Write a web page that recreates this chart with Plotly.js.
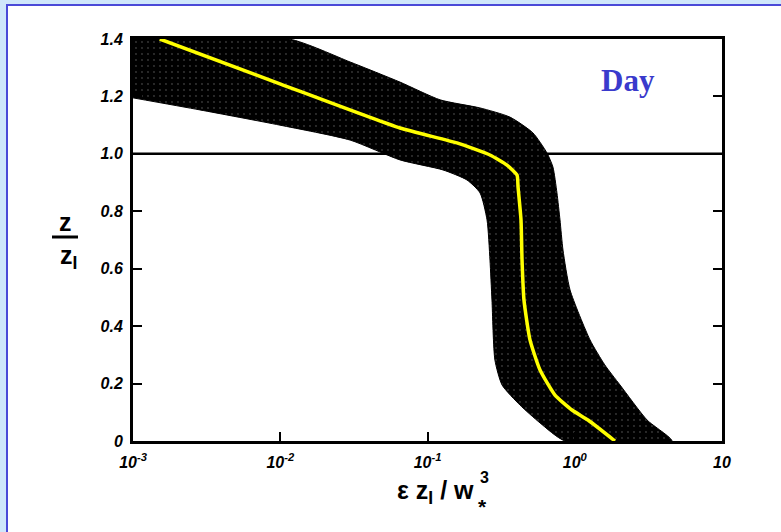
<!DOCTYPE html>
<html>
<head>
<meta charset="utf-8">
<script src="https://cdn.plot.ly/plotly-3.0.1.min.js"></script>
<style>
html,body{margin:0;padding:0;background:#cfe7fb;}
#chart{width:781px;height:532px;}
</style>
</head>
<body>
<div id="chart"></div>
<script>
// Shaded band: upper/right edge and lower/left edge
var bandUpperX = [0.001, 0.0115, 0.0298, 0.065, 0.122, 0.227, 0.363, 0.52, 0.648, 0.711, 0.757, 0.794, 0.832, 0.929, 1.27, 1.60, 2.03, 3.10, 4.57];
var bandUpperY = [1.40, 1.40, 1.32, 1.25, 1.188, 1.16, 1.128, 1.073, 1.003, 0.954, 0.864, 0.77, 0.665, 0.526, 0.352, 0.265, 0.195, 0.073, 0];
var bandLowerX = [0.001, 0.00285, 0.00995, 0.0298, 0.065, 0.1274, 0.1854, 0.2274, 0.2537, 0.2656, 0.274, 0.287, 0.321, 0.425, 0.581, 0.859];
var bandLowerY = [1.195, 1.153, 1.10, 1.048, 0.979, 0.944, 0.909, 0.864, 0.77, 0.63, 0.491, 0.282, 0.195, 0.125, 0.063, 0];
// Yellow fitted curve
var fitX = [0.00152, 0.00995, 0.065, 0.1585, 0.2655, 0.3467, 0.4055, 0.412, 0.4315, 0.4385, 0.452, 0.4966, 0.581, 0.734, 0.957, 1.23, 1.875];
var fitY = [1.40, 1.244, 1.09, 1.038, 0.996, 0.961, 0.926, 0.885, 0.77, 0.63, 0.491, 0.352, 0.247, 0.16, 0.108, 0.073, 0];
// Inversion level
var refX = [0.001, 10];
var refY = [1.0, 1.0];
// Ticks
var xTickVals = [0.001, 0.01, 0.1, 1, 10];
var xTickText = ['10<sup>-3</sup>', '10<sup>-2</sup>', '10<sup>-1</sup>', '10<sup>0</sup>', '10'];
var yTickVals = [0, 0.2, 0.4, 0.6, 0.8, 1.0, 1.2, 1.4];
var yTickText = ['0', '0.2', '0.4', '0.6', '0.8', '1.0', '1.2', '1.4'];

var polyX = bandUpperX.concat(bandLowerX.slice().reverse());
var polyY = bandUpperY.concat(bandLowerY.slice().reverse());

var traces = [
  {x: refX, y: refY, mode: 'lines', line: {color: '#000', width: 2.5}, hoverinfo: 'skip', showlegend: false},
  {x: polyX, y: polyY, mode: 'lines', fill: 'toself', fillcolor: '#000',
   fillpattern: {shape: '.', bgcolor: '#000', fgcolor: '#3a3a3a', size: 6, solidity: 0.07},
   line: {color: '#000', width: 1, shape: 'spline', smoothing: 0.6}, hoverinfo: 'skip', showlegend: false},
  {x: fitX, y: fitY, mode: 'lines', line: {color: '#ffff00', width: 3.5, shape: 'spline', smoothing: 0.5}, hoverinfo: 'skip', showlegend: false}
];

var tickFont = {family: 'Liberation Sans, Arial, sans-serif', size: 16, color: '#000', weight: 'bold', style: 'italic'};
var lblFont = {family: 'Liberation Sans, Arial, sans-serif', size: 25, color: '#000', weight: 'bold'};

function px(v) { return (v - 133) / 589; }
function py(v) { return (441 - v) / 402; }

var layout = {
  width: 781, height: 532,
  margin: {l: 133, r: 59, t: 39, b: 91, pad: 0},
  paper_bgcolor: '#cfe7fb',
  plot_bgcolor: '#ffffff',
  showlegend: false,
  xaxis: {
    type: 'log', range: [-3, 1], tickvals: xTickVals, ticktext: xTickText,
    ticks: 'inside', ticklen: 9, tickwidth: 2, tickcolor: '#000',
    showline: true, linewidth: 3, linecolor: '#000', mirror: true,
    showgrid: false, zeroline: false, tickfont: tickFont, ticklabelstandoff: 5
  },
  yaxis: {
    range: [0, 1.4], tickvals: yTickVals, ticktext: yTickText,
    ticks: 'inside', ticklen: 9, tickwidth: 2, tickcolor: '#000',
    showline: true, linewidth: 3, linecolor: '#000', mirror: 'ticks',
    showgrid: false, zeroline: false, tickfont: tickFont, ticklabelstandoff: 4
  },
  shapes: [
    {type: 'rect', xref: 'paper', yref: 'paper', layer: 'below',
     x0: px(7), x1: px(790), y0: py(545), y1: py(5),
     fillcolor: '#ffffff', line: {color: '#4a4ad8', width: 2}},
    {type: 'line', xref: 'paper', yref: 'paper',
     x0: px(52), x1: px(78), y0: py(237), y1: py(237),
     line: {color: '#000', width: 3}}
  ],
  annotations: [
    {text: 'Day', xref: 'paper', yref: 'paper', x: px(628), y: py(80), xanchor: 'center', yanchor: 'middle',
     showarrow: false, font: {family: 'Liberation Serif, Times New Roman, serif', size: 31, color: '#3a3acc', weight: 'bold'}},
    {text: 'z', xref: 'paper', yref: 'paper', x: px(65), y: py(222), xanchor: 'center', yanchor: 'middle',
     showarrow: false, font: lblFont},
    {text: 'z<sub>I</sub>', xref: 'paper', yref: 'paper', x: px(68), y: py(257), xanchor: 'center', yanchor: 'middle',
     showarrow: false, font: lblFont},
    {text: 'ε z<sub>I</sub> / w', xref: 'paper', yref: 'paper', x: px(476), y: py(492), xanchor: 'right', yanchor: 'middle',
     showarrow: false, font: {family: 'Liberation Sans, Arial, sans-serif', size: 25, color: '#000', weight: 'bold'}},
    {text: '3', xref: 'paper', yref: 'paper', x: px(484), y: py(477), xanchor: 'center', yanchor: 'middle',
     showarrow: false, font: {family: 'Liberation Sans, Arial, sans-serif', size: 16, color: '#000', weight: 'bold'}},
    {text: '*', xref: 'paper', yref: 'paper', x: px(483), y: py(506), xanchor: 'center', yanchor: 'middle',
     showarrow: false, font: {family: 'Liberation Sans, Arial, sans-serif', size: 21, color: '#000', weight: 'bold'}}
  ]
};

Plotly.newPlot('chart', traces, layout, {displayModeBar: false, staticPlot: true});
</script>
</body>
</html>
